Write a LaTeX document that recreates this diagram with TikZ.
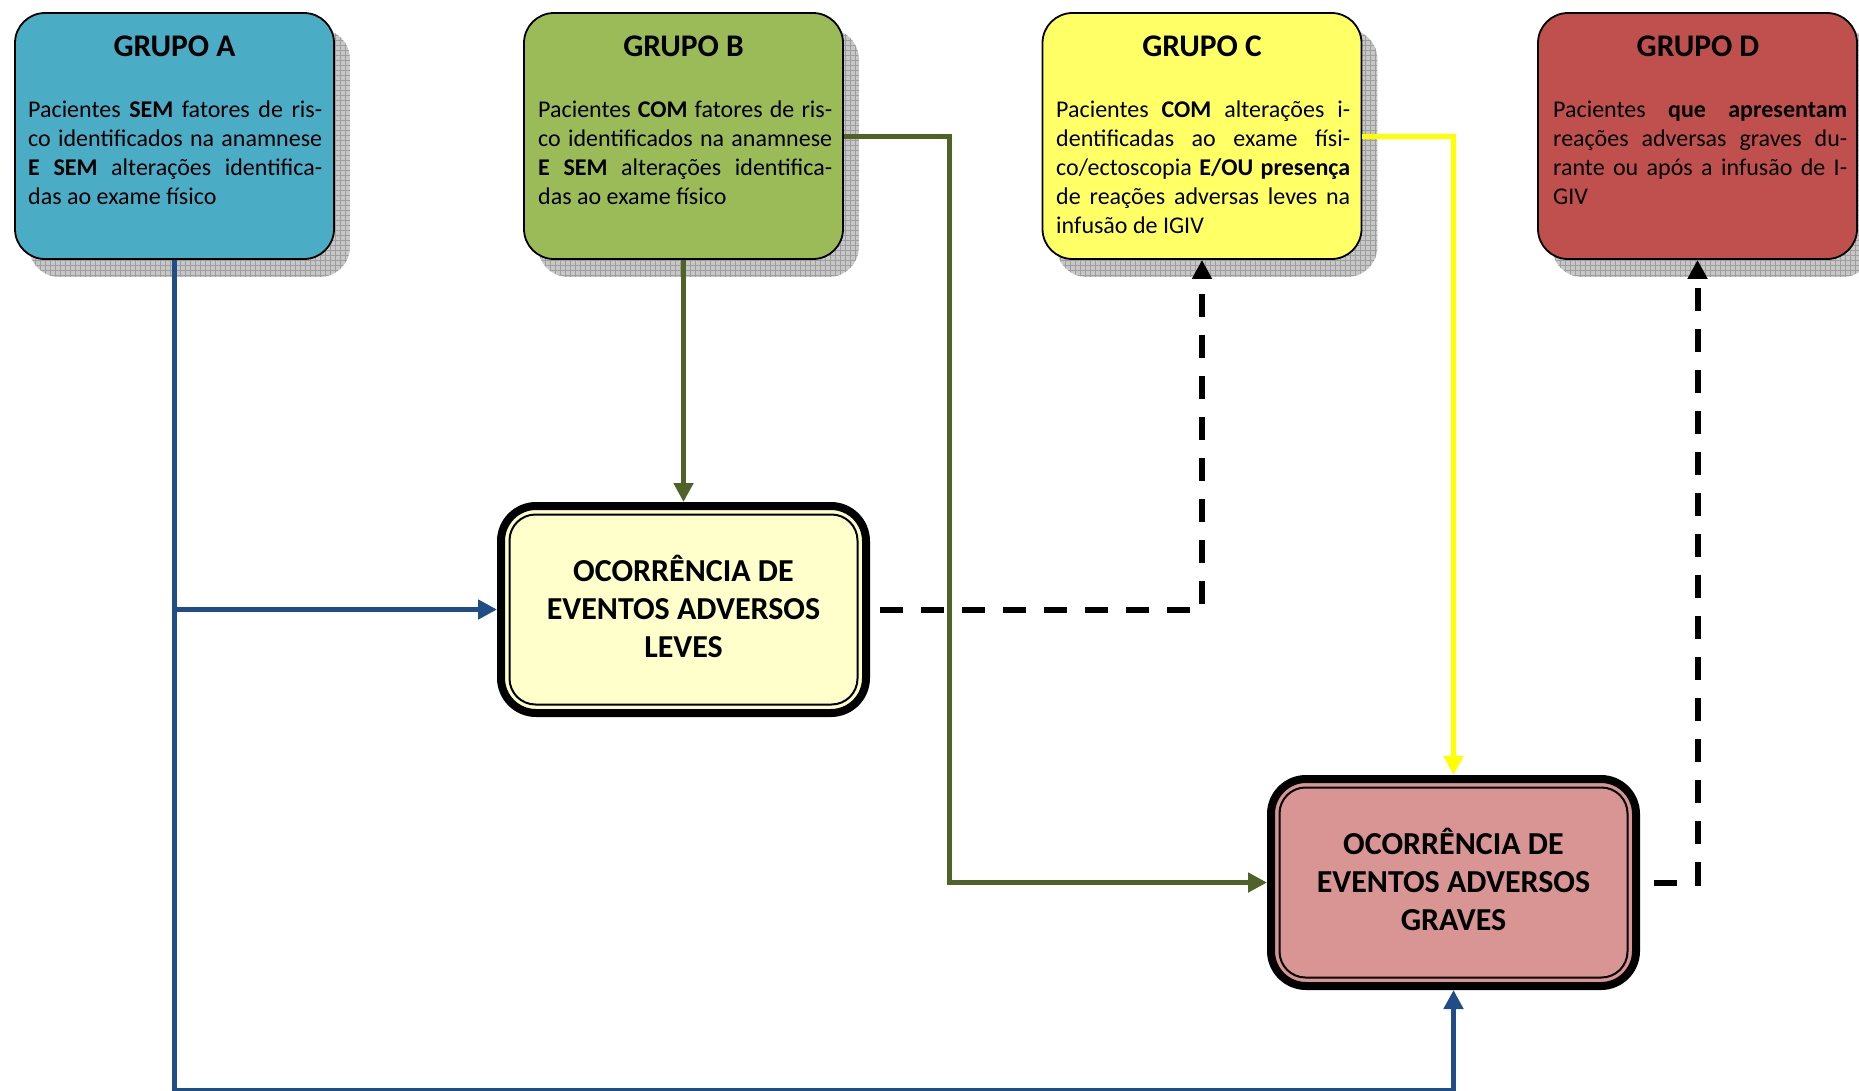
\documentclass[tikz,border=0pt]{standalone}
\usepackage{fontspec}
\setmainfont{Carlito}
\usetikzlibrary{arrows.meta,backgrounds,calc}

\definecolor{fillA}{HTML}{4BACC6}
\definecolor{fillB}{HTML}{9BBB59}
\definecolor{fillC}{HTML}{FFFF66}
\definecolor{fillD}{HTML}{C0504D}
\definecolor{fillLeve}{HTML}{FFFFCC}
\definecolor{fillGrave}{HTML}{D99594}
\definecolor{lineBlue}{HTML}{214D87}
\definecolor{lineGreen}{HTML}{4F6228}
\definecolor{lineYellow}{HTML}{FFFF00}

% one justified line of a fixed width
\newcommand{\jl}[1]{\makebox[294pt][s]{\spaceskip=0pt\relax #1}}

\begin{document}
\begin{tikzpicture}[x=1pt,y=-1pt,
  grp/.style={draw=black, line width=1.8pt, rounded corners=30pt,
    minimum width=319pt, minimum height=246pt, inner sep=0pt},
  grptitle/.style={font=\fontsize{31.5pt}{38pt}\selectfont\bfseries,
    anchor=base, inner sep=0pt},
  grpbody/.style={font=\fontsize{24pt}{29pt}\selectfont, align=left,
    anchor=base west, inner sep=0pt},
  evt/.style={draw=black, line width=8pt, rounded corners=35pt,
    minimum width=365pt, minimum height=207pt, inner sep=0pt},
  evttext/.style={font=\fontsize{32pt}{38pt}\selectfont\bfseries,
    align=center, inner sep=0pt},
  evtinner/.style={draw=black, line width=2pt, rounded corners=26pt},
  shadowbox/.style={fill=black!22, rounded corners=30pt,
    path picture={\draw[black!38, line width=0.6pt, step=5pt]
      (path picture bounding box.north west) grid
      (path picture bounding box.south east);}},
  arrowtri/.style={-{Triangle[length=19pt,width=19pt]}},
  blueln/.style={draw=lineBlue, line width=5pt},
  greenln/.style={draw=lineGreen, line width=5pt},
  yellowln/.style={draw=lineYellow, line width=5pt},
  dashln/.style={draw=black, line width=6pt, dash pattern=on 23pt off 18pt},
]
\useasboundingbox (0,0) rectangle (1859,1090);

% group boxes
\node[grp, fill=fillA] (A) at (174.5,136) {};
\node[grp, fill=fillB] (B) at (683.5,136) {};
\node[grp, fill=fillC] (C) at (1202,136) {};
\node[grp, fill=fillD] (D) at (1697.5,136) {};

\begin{scope}[on background layer]
  \foreach \n in {A,B,C,D}
    \path[shadowbox] ([shift={(15,17)}]\n.north west) rectangle ([shift={(15,17)}]\n.south east);
\end{scope}

\node[grptitle] (tA) at (174.5,56) {GRUPO A};
\node[grptitle] (tB) at (683.5,56) {GRUPO B};
\node[grptitle] (tC) at (1202,56) {GRUPO C};
\node[grptitle] (tD) at (1698,56) {GRUPO D};

% body texts, placed by the baseline of their last line
\node[grpbody] (bA) at (28,204) {%
  \jl{Pacientes \textbf{SEM} fatores de ris-}\\
  \jl{co identificados na anamnese}\\
  \jl{\textbf{E SEM} alterações identifica-}\\
  das ao exame físico};
\node[grpbody] (bB) at (538,204) {%
  \jl{Pacientes \textbf{COM} fatores de ris-}\\
  \jl{co identificados na anamnese}\\
  \jl{\textbf{E SEM} alterações identifica-}\\
  das ao exame físico};
\node[grpbody] (bC) at (1056,233) {%
  \jl{Pacientes \textbf{COM} alterações i-}\\
  \jl{dentificadas ao exame físi-}\\
  \jl{co/ectoscopia \textbf{E/OU presença}}\\
  \jl{de reações adversas leves na}\\
  infusão de IGIV};
\node[grpbody] (bD) at (1553,204) {%
  \jl{Pacientes \textbf{que} \textbf{apresentam}}\\
  \jl{reações adversas graves du-}\\
  \jl{rante ou após a infusão de I-}\\
  GIV};

% outcome boxes
\node[evt, fill=fillLeve] (L) at (683.5,609.5) {};
\draw[evtinner] ([shift={(12.5,12.5)}]L.north west) rectangle ([shift={(-12.5,-12.5)}]L.south east);
\node[evttext] (Lt) at ([yshift=3pt]L.center) {OCORRÊNCIA DE\\EVENTOS ADVERSOS\\LEVES};
\node[evt, fill=fillGrave] (G) at (1453.5,882.5) {};
\draw[evtinner] ([shift={(12.5,12.5)}]G.north west) rectangle ([shift={(-12.5,-12.5)}]G.south east);
\node[evttext] (Gt) at ([yshift=3pt]G.center) {OCORRÊNCIA DE\\EVENTOS ADVERSOS\\GRAVES};

% routing points
\coordinate (bot) at (0,1090);
\coordinate (gcol) at (949,0);

% connectors
\draw[blueln, arrowtri] (A.south) -- (A.south |- bot) -| (G.south);
\draw[blueln, arrowtri] (A.south |- L.west) -- (L.west);
\draw[greenln, arrowtri] (B.south) -- (L.north);
\draw[greenln, arrowtri] (B.east) -- (gcol |- B.east) |- (G.west);
\draw[yellowln, arrowtri] (C.east) -| (G.north);
\draw[dashln, arrowtri] ([xshift=10pt]L.east) -| (C.south);
\draw[dashln, arrowtri] ([xshift=14pt]G.east) -| (D.south);
\end{tikzpicture}
\end{document}
